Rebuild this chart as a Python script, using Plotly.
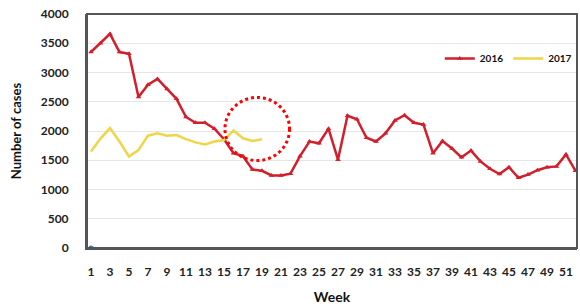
import plotly.graph_objects as go

weeks_2016 = list(range(1, 53))
cases_2016 = [3350, 3500, 3660, 3350, 3320, 2580, 2790, 2890, 2720, 2550,
              2240, 2140, 2140, 2040, 1860, 1620, 1570, 1340, 1320, 1240,
              1240, 1270, 1570, 1820, 1790, 2040, 1510, 2260, 2200, 1885,
              1820, 1960, 2180, 2270, 2140, 2110, 1620, 1830, 1700, 1550,
              1665, 1480, 1355, 1265, 1380, 1200, 1255, 1330, 1380, 1395,
              1600, 1320]
weeks_2017 = list(range(1, 20))
cases_2017 = [1650, 1870, 2050, 1820, 1565, 1675, 1920, 1960, 1920, 1930,
              1860, 1805, 1770, 1820, 1845, 2010, 1875, 1830, 1860]
tick_weeks = list(range(1, 52, 2))
y_ticks = [0, 500, 1000, 1500, 2000, 2500, 3000, 3500, 4000]

FONT = "Lato"

fig = go.Figure()
fig.add_trace(go.Scatter(x=weeks_2016, y=cases_2016, mode="lines+markers", name="2016",
                         line=dict(color="#d21f2b", width=2.5),
                         marker=dict(symbol="triangle-up", size=5, color="#d21f2b")))
fig.add_trace(go.Scatter(x=weeks_2017, y=cases_2017, mode="lines", name="2017",
                         line=dict(color="#efd548", width=2.5)))
fig.add_trace(go.Scatter(x=[1], y=[0], mode="markers", showlegend=False,
                         marker=dict(color="#3a78c2", size=5)))

# plot frame
fig.add_shape(type="rect", xref="paper", yref="paper", x0=0, x1=1, y0=0, y1=1,
              line=dict(color="#555555", width=2), layer="above")
# dotted circle highlight
fig.add_shape(type="circle", xref="x", yref="y", x0=15.1, x1=21.9, y0=1494, y1=2574,
              line=dict(color="#ff0000", width=3, dash="dot"))

fig.update_layout(
    width=580, height=306,
    margin=dict(l=87, r=3, t=14, b=55),
    paper_bgcolor="white", plot_bgcolor="white",
    font=dict(family=FONT, color="#222222"),
    showlegend=True,
    legend=dict(orientation="h", x=0.72, y=0.81, xanchor="left", yanchor="middle",
                font=dict(size=10, family=FONT, color="#111111", weight="bold"),
                bgcolor="rgba(0,0,0,0)", itemwidth=30, tracegroupgap=0),
)
fig.update_xaxes(range=[0.58, 52.16], tickmode="array", tickvals=tick_weeks,
                 ticktext=[str(w) for w in tick_weeks],
                 showgrid=False, zeroline=False,
                 showline=True, linecolor="#555555", linewidth=2,
                 ticks="", ticklabelstandoff=12, ticklabeloverflow="allow",
                 tickfont=dict(size=12, family=FONT, color="#222222", weight="bold"),
                 title=dict(text="Week", standoff=14,
                            font=dict(size=14, family=FONT, color="#111111", weight="bold")))
fig.update_yaxes(range=[0, 4000], tickmode="array", tickvals=y_ticks,
                 showgrid=True, gridcolor="#e6e6e6", gridwidth=1, zeroline=False,
                 showline=True, linecolor="#555555", linewidth=2,
                 ticks="", ticklabelstandoff=14, ticklabeloverflow="allow",
                 tickfont=dict(size=12, family=FONT, color="#222222", weight="bold"),
                 title=dict(text="Number of cases", standoff=16,
                            font=dict(size=13, family=FONT, color="#111111", weight="bold")))

fig.write_html("out.html", config={"displayModeBar": False},
               post_script="document.body.style.margin='0';document.body.style.overflow='hidden';")
